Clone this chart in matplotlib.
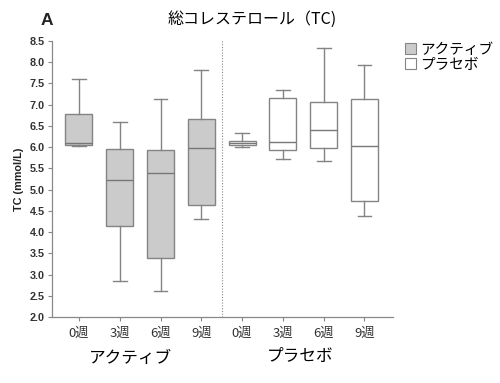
import matplotlib
matplotlib.use("Agg")
import matplotlib.pyplot as plt
from matplotlib.patches import Patch

plt.rcParams['font.family'] = ['Noto Sans CJK JP', 'DejaVu Sans']

weeks = ["0週", "3週", "6週", "9週"]
groups = ["アクティブ", "プラセボ"]
# per box: whislo, q1, med, q3, whishi
active_stats = [
    (6.02, 6.06, 6.09, 6.79, 7.60),
    (2.86, 4.14, 5.22, 5.95, 6.60),
    (2.61, 3.38, 5.39, 5.94, 7.13),
    (4.30, 4.65, 5.99, 6.66, 7.82),
]
placebo_stats = [
    (6.01, 6.04, 6.10, 6.14, 6.33),
    (5.72, 5.93, 6.12, 7.15, 7.34),
    (5.67, 5.99, 6.41, 7.06, 8.34),
    (4.38, 4.74, 6.03, 7.13, 7.94),
]
title = "総コレステロール（TC)"
ylabel = "TC (mmol/L)"

fig = plt.figure(figsize=(5.0, 3.83), dpi=100)
ax = fig.add_axes([0.104, 0.172, 0.682, 0.721])

def mk(stats):
    return [dict(whislo=s[0], q1=s[1], med=s[2], q3=s[3], whishi=s[4], fliers=[]) for s in stats]

edge = "#848484"
common = dict(widths=0.66, patch_artist=True, showfliers=False, capwidths=0.34,
              whiskerprops=dict(color=edge, lw=1.0),
              capprops=dict(color=edge, lw=1.0),
              medianprops=dict(color="#777777", lw=1.0))
b1 = ax.bxp(mk(active_stats), positions=[1, 2, 3, 4],
            boxprops=dict(facecolor="#cbcbcb", edgecolor=edge, lw=1.0), **common)
b2 = ax.bxp(mk(placebo_stats), positions=[5, 6, 7, 8],
            boxprops=dict(facecolor="white", edgecolor=edge, lw=1.0), **common)

ax.axvline(4.5, color="#888888", lw=0.8, ls=(0, (1, 1.5)))

ax.set_xlim(0.34, 8.7)
ax.set_ylim(2.0, 8.5)
yt = [2.0 + 0.5 * i for i in range(14)]
ax.set_yticks(yt)
ax.set_yticklabels([f"{v:.1f}" for v in yt], fontfamily="Liberation Sans",
                   fontweight="bold", fontsize=7.8)
ax.set_xticks(range(1, 9))
ax.set_xticklabels(weeks + weeks, fontsize=9.5)
ax.tick_params(axis="both", colors="#888888", length=3, width=0.8, labelcolor="#333333")
ax.tick_params(axis="y", pad=2)
ax.tick_params(axis="x", pad=4)
for s in ["top", "right"]:
    ax.spines[s].set_visible(False)
for s in ["left", "bottom"]:
    ax.spines[s].set_color("#888888")
    ax.spines[s].set_linewidth(0.9)

ax.set_ylabel(ylabel, fontfamily="Liberation Sans", fontweight="bold", fontsize=7.8,
              labelpad=4, color="#222222")

fig.text(0.504, 0.95, title, ha="center", va="center", fontsize=11.5)
fig.text(0.094, 0.947, "A", ha="center", va="center", fontsize=12.5,
         fontweight="bold", fontfamily="Liberation Sans", color="#222222")

fig.text(0.26, 0.065, groups[0], ha="center", va="center", fontsize=12)
fig.text(0.60, 0.068, groups[1], ha="center", va="center", fontsize=12)

handles = [Patch(facecolor="#cbcbcb", edgecolor=edge, lw=0.8),
           Patch(facecolor="white", edgecolor=edge, lw=0.8)]
fig.legend(handles, groups, loc="upper left", bbox_to_anchor=(0.79, 0.915),
           frameon=False, fontsize=10.5, handlelength=0.75, handleheight=0.75,
           handletextpad=0.25, labelspacing=0.05, borderpad=0.2)

fig.savefig("out.png", dpi=100)
